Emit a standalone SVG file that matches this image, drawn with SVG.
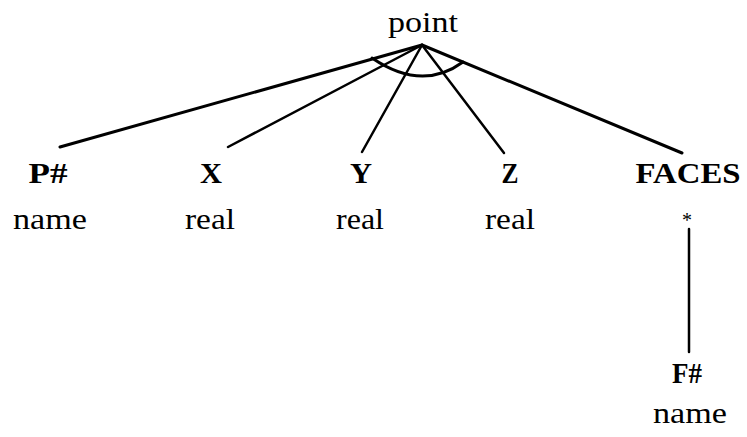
<svg xmlns="http://www.w3.org/2000/svg" width="747" height="437" viewBox="0 0 747 437">
<style>
text{font-family:"Liberation Serif","Times New Roman",serif;font-size:30px;fill:#000;text-anchor:middle}
.k{font-weight:bold}
.c{stroke:#000;fill:none;stroke-linecap:round}
</style>
<rect width="747" height="437" fill="#fff"/>
<g id="connectors">
<line class="c" x1="422" y1="45" x2="60" y2="147" stroke-width="3"/>
<line class="c" x1="422" y1="45" x2="228" y2="147" stroke-width="2.5"/>
<line class="c" x1="422" y1="45" x2="362" y2="152" stroke-width="2.5"/>
<line class="c" x1="422" y1="45" x2="504" y2="153" stroke-width="2.5"/>
<line class="c" x1="422" y1="45" x2="682" y2="153" stroke-width="3"/>
<path class="c" d="M372 58 Q422 92 463 62" stroke-width="3"/>
<line class="c" x1="689" y1="229" x2="689" y2="352" stroke-width="2.5"/>
</g>
<g id="point"><text x="423" y="32" textLength="70" lengthAdjust="spacingAndGlyphs">point</text></g>
<g id="P"><text class="k" x="48" y="183" textLength="39" lengthAdjust="spacingAndGlyphs">P#</text><text x="50" y="229" textLength="74" lengthAdjust="spacingAndGlyphs">name</text></g>
<g id="X"><text class="k" x="211" y="183" textLength="22" lengthAdjust="spacingAndGlyphs">X</text><text x="210" y="229" textLength="50" lengthAdjust="spacingAndGlyphs">real</text></g>
<g id="Y"><text class="k" x="361" y="183" textLength="22" lengthAdjust="spacingAndGlyphs">Y</text><text x="360" y="229" textLength="48" lengthAdjust="spacingAndGlyphs">real</text></g>
<g id="Z"><text class="k" x="510" y="183" textLength="17" lengthAdjust="spacingAndGlyphs">Z</text><text x="510" y="229" textLength="50" lengthAdjust="spacingAndGlyphs">real</text></g>
<g id="FACES"><text class="k" x="688" y="183" textLength="105" lengthAdjust="spacingAndGlyphs">FACES</text><text x="687" y="227" style="font-size:20px">*</text></g>
<g id="F"><text class="k" x="687" y="383" textLength="30" lengthAdjust="spacingAndGlyphs">F#</text><text x="690" y="423" textLength="74" lengthAdjust="spacingAndGlyphs">name</text></g>
</svg>
